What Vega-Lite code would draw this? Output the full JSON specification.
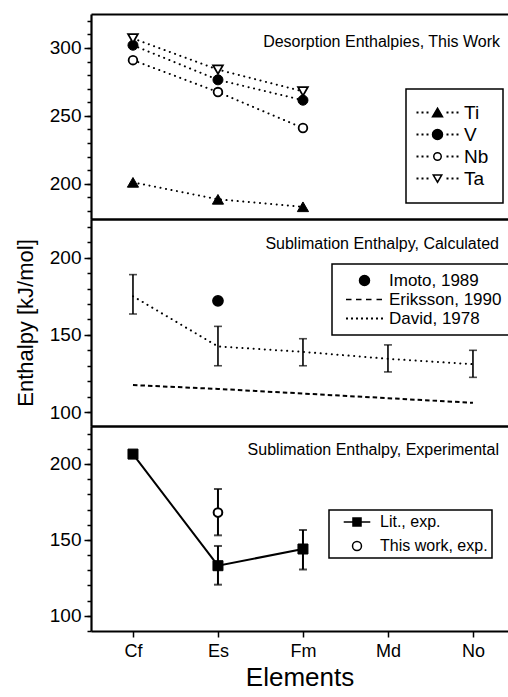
{
  "$schema": "https://vega.github.io/schema/vega-lite/v6.json",
  "padding": {"left": 14, "top": 14, "right": 0, "bottom": 0},
  "bounds": "flush",
  "spacing": 0,
  "resolve": {"scale": {"shape": "independent", "fill": "independent", "stroke": "independent"}, "legend": {"shape": "independent", "fill": "independent", "stroke": "independent"}},
  "config": {
    "font": "Liberation Sans",
    "view": {"stroke": null},
    "axis": {"domainColor": "black", "domainWidth": 2.2, "tickColor": "black", "tickWidth": 1.5, "labelColor": "black", "titleColor": "black", "grid": false, "titleFontWeight": "normal", "labelFont": "Liberation Sans", "titleFont": "Liberation Sans"},
    "legend": {"labelColor": "black", "labelFont": "Liberation Sans", "fillColor": "white", "strokeColor": "black", "strokeWidth": 1.5, "symbolStrokeColor": "black", "symbolStrokeWidth": 1.5, "symbolOpacity": 1},
    "title": {"fontWeight": "normal", "color": "black", "font": "Liberation Sans", "frame": "group"}
  },
  "datasets": {
    "desorption": [
      {"el": "Cf", "metal": "Ti", "v": 201},
      {"el": "Es", "metal": "Ti", "v": 188.5},
      {"el": "Fm", "metal": "Ti", "v": 183},
      {"el": "Cf", "metal": "V", "v": 302},
      {"el": "Es", "metal": "V", "v": 276.5},
      {"el": "Fm", "metal": "V", "v": 261.5},
      {"el": "Cf", "metal": "Nb", "v": 291},
      {"el": "Es", "metal": "Nb", "v": 267.5},
      {"el": "Fm", "metal": "Nb", "v": 241},
      {"el": "Cf", "metal": "Ta", "v": 307},
      {"el": "Es", "metal": "Ta", "v": 284},
      {"el": "Fm", "metal": "Ta", "v": 268}
    ],
    "david": [
      {"el": "Cf", "src": "David, 1978", "v": 175, "lo": 163.5, "hi": 189},
      {"el": "Es", "src": "David, 1978", "v": 142.5, "lo": 130, "hi": 155.5},
      {"el": "Fm", "src": "David, 1978", "v": 139, "lo": 130, "hi": 147.5},
      {"el": "Md", "src": "David, 1978", "v": 134.5, "lo": 126, "hi": 143.5},
      {"el": "No", "src": "David, 1978", "v": 131, "lo": 122.5, "hi": 140}
    ],
    "eriksson": [
      {"el": "Cf", "src": "Eriksson, 1990", "v": 117.5},
      {"el": "Es", "src": "Eriksson, 1990", "v": 115},
      {"el": "Fm", "src": "Eriksson, 1990", "v": 112},
      {"el": "Md", "src": "Eriksson, 1990", "v": 109},
      {"el": "No", "src": "Eriksson, 1990", "v": 106}
    ],
    "imoto": [
      {"el": "Es", "src": "Imoto, 1989", "v": 172}
    ],
    "exp": [
      {"el": "Cf", "series": "Lit., exp.", "v": 206.5, "lo": null, "hi": null},
      {"el": "Es", "series": "Lit., exp.", "v": 133, "lo": 120.5, "hi": 146},
      {"el": "Fm", "series": "Lit., exp.", "v": 144, "lo": 130.5, "hi": 156.5},
      {"el": "Es", "series": "This work, exp.", "v": 168, "lo": 153, "hi": 183.5}
    ]
  },
  "vconcat": [
    {
      "width": 417,
      "height": 205,
      "title": {"text": "Desorption Enthalpies, This Work", "anchor": "end", "orient": "top", "offset": -36, "fontSize": 16, "dx": -8},
      "data": {"name": "desorption"},
      "layer": [
        {
          "mark": {"type": "line", "color": "black", "strokeWidth": 2, "strokeDash": [0.1, 5.5], "strokeCap": "round"},
          "encoding": {
            "x": {"field": "el", "type": "nominal", "scale": {"type": "point", "domain": ["Cf", "Es", "Fm", "Md", "No"], "padding": 0.453, "align": 0.545}, "axis": {"orient": "bottom", "title": null, "labels": false, "ticks": false}},
            "y": {"field": "v", "type": "quantitative", "scale": {"domain": [174, 325], "nice": false, "zero": false}, "axis": {"orient": "left", "values": [200, 250, 300], "title": null, "tickSize": 7, "labelFontSize": 19, "labelPadding": 3}},
            "detail": {"field": "metal"}
          }
        },
        {
          "transform": [{"filter": "datum.metal === 'Ti'"}],
          "mark": {"type": "point", "shape": "triangle-up", "filled": true, "fill": "black", "stroke": "black", "strokeWidth": 1, "size": 125, "opacity": 1},
          "encoding": {"x": {"field": "el", "type": "nominal", "axis": null}, "y": {"field": "v", "type": "quantitative", "axis": null}}
        },
        {
          "transform": [{"filter": "datum.metal === 'V'"}],
          "mark": {"type": "point", "shape": "circle", "filled": true, "fill": "black", "stroke": "black", "strokeWidth": 1, "size": 100, "opacity": 1},
          "encoding": {"x": {"field": "el", "type": "nominal", "axis": null}, "y": {"field": "v", "type": "quantitative", "axis": null}}
        },
        {
          "transform": [{"filter": "datum.metal === 'Nb'"}],
          "mark": {"type": "point", "shape": "circle", "filled": true, "fill": "white", "stroke": "black", "strokeWidth": 1.8, "size": 75, "opacity": 1},
          "encoding": {"x": {"field": "el", "type": "nominal", "axis": null}, "y": {"field": "v", "type": "quantitative", "axis": null}}
        },
        {
          "transform": [{"filter": "datum.metal === 'Ta'"}],
          "mark": {"type": "point", "shape": "triangle-down", "filled": true, "fill": "white", "stroke": "black", "strokeWidth": 1.8, "size": 95, "opacity": 1},
          "encoding": {"x": {"field": "el", "type": "nominal", "axis": null}, "y": {"field": "v", "type": "quantitative", "axis": null}}
        },
        {
          "mark": {"type": "point", "filled": false, "color": "black", "strokeWidth": 1.5, "size": 100, "opacity": 0},
          "encoding": {
            "x": {"field": "el", "type": "nominal", "axis": {"orient": "top", "title": null, "labels": false, "ticks": false}},
            "y": {"field": "v", "type": "quantitative", "axis": {"orient": "left", "values": [180, 190, 200, 210, 220, 230, 240, 250, 260, 270, 280, 290, 300, 310, 320], "labels": false, "domain": false, "tickSize": 4, "title": null}},
            "shape": {"field": "metal", "type": "nominal",
              "scale": {"domain": ["Ti", "V", "Nb", "Ta"], "range": [
                "M0,-0.87L1,0.87L-1,0.87ZM-4.05,-0.05h0.1v0.1h-0.1ZM-3.05,-0.05h0.1v0.1h-0.1ZM-2.05,-0.05h0.1v0.1h-0.1ZM1.95,-0.05h0.1v0.1h-0.1ZM2.95,-0.05h0.1v0.1h-0.1ZM3.95,-0.05h0.1v0.1h-0.1Z",
                "M1,0A1,1,0,1,1,-1,0A1,1,0,1,1,1,0ZM-4.05,-0.05h0.1v0.1h-0.1ZM-3.05,-0.05h0.1v0.1h-0.1ZM-2.05,-0.05h0.1v0.1h-0.1ZM1.95,-0.05h0.1v0.1h-0.1ZM2.95,-0.05h0.1v0.1h-0.1ZM3.95,-0.05h0.1v0.1h-0.1Z",
                "M0.75,0A0.75,0.75,0,1,1,-0.75,0A0.75,0.75,0,1,1,0.75,0ZM-4.05,-0.05h0.1v0.1h-0.1ZM-3.05,-0.05h0.1v0.1h-0.1ZM-2.05,-0.05h0.1v0.1h-0.1ZM1.95,-0.05h0.1v0.1h-0.1ZM2.95,-0.05h0.1v0.1h-0.1ZM3.95,-0.05h0.1v0.1h-0.1Z",
                "M0,0.75L0.85,-0.7L-0.85,-0.7ZM-4.05,-0.05h0.1v0.1h-0.1ZM-3.05,-0.05h0.1v0.1h-0.1ZM-2.05,-0.05h0.1v0.1h-0.1ZM1.95,-0.05h0.1v0.1h-0.1ZM2.95,-0.05h0.1v0.1h-0.1ZM3.95,-0.05h0.1v0.1h-0.1Z"]},
              "legend": {"orient": "none", "legendX": 315, "legendY": 75, "title": null, "padding": 14, "labelFontSize": 19, "symbolSize": 100, "symbolOffset": 8, "labelOffset": 17, "rowPadding": 2, "symbolOpacity": 1}},
            "fill": {"field": "metal", "type": "nominal", "scale": {"domain": ["Ti", "V", "Nb", "Ta"], "range": ["black", "black", "white", "white"]},
              "legend": {"orient": "none", "legendX": 315, "legendY": 75, "title": null, "padding": 14, "labelFontSize": 19, "symbolSize": 100, "symbolOffset": 8, "labelOffset": 17, "rowPadding": 2, "symbolOpacity": 1}},
            "stroke": {"field": "metal", "type": "nominal", "scale": {"domain": ["Ti", "V", "Nb", "Ta"], "range": ["black", "black", "black", "black"]},
              "legend": {"orient": "none", "legendX": 315, "legendY": 75, "title": null, "padding": 14, "labelFontSize": 19, "symbolSize": 100, "symbolOffset": 8, "labelOffset": 17, "rowPadding": 2, "symbolOpacity": 1}}
          }
        }
      ],
      "resolve": {"axis": {"x": "independent", "y": "independent"}}
    },
    {
      "width": 417,
      "height": 207,
      "title": {"text": "Sublimation Enthalpy, Calculated", "anchor": "end", "orient": "top", "offset": -33, "fontSize": 16, "dx": -9},
      "layer": [
        {
          "data": {"name": "david"},
          "mark": {"type": "line", "color": "black", "strokeWidth": 2, "strokeDash": [0.1, 5.5], "strokeCap": "round"},
          "encoding": {
            "x": {"field": "el", "type": "nominal", "scale": {"type": "point", "domain": ["Cf", "Es", "Fm", "Md", "No"], "padding": 0.453, "align": 0.545}, "axis": {"orient": "bottom", "title": null, "labels": false, "ticks": false}},
            "y": {"field": "v", "type": "quantitative", "scale": {"domain": [91, 225], "nice": false, "zero": false}, "axis": {"orient": "left", "values": [100, 150, 200], "title": "Enthalpy [kJ/mol]", "titleFontSize": 22, "titlePadding": 12, "tickSize": 7, "labelFontSize": 19, "labelPadding": 3}}
          }
        },
        {
          "data": {"name": "eriksson"},
          "mark": {"type": "line", "color": "black", "strokeWidth": 2, "strokeDash": [4.5, 3]},
          "encoding": {
            "x": {"field": "el", "type": "nominal", "axis": null},
            "y": {"field": "v", "type": "quantitative", "axis": null}
          }
        },
        {
          "data": {"name": "david"},
          "mark": {"type": "rule", "color": "black", "strokeWidth": 1.6},
          "encoding": {
            "x": {"field": "el", "type": "nominal", "axis": null},
            "y": {"field": "lo", "type": "quantitative", "axis": null},
            "y2": {"field": "hi"}
          }
        },
        {
          "data": {"name": "david"},
          "mark": {"type": "tick", "color": "black", "size": 8, "thickness": 1.6, "orient": "horizontal"},
          "encoding": {
            "x": {"field": "el", "type": "nominal", "axis": null},
            "y": {"field": "lo", "type": "quantitative", "axis": null}
          }
        },
        {
          "data": {"name": "david"},
          "mark": {"type": "tick", "color": "black", "size": 8, "thickness": 1.6, "orient": "horizontal"},
          "encoding": {
            "x": {"field": "el", "type": "nominal", "axis": null},
            "y": {"field": "hi", "type": "quantitative", "axis": null}
          }
        },
        {
          "data": {"name": "imoto"},
          "mark": {"type": "point", "filled": false, "color": "black", "strokeWidth": 1.5, "size": 105, "opacity": 1},
          "encoding": {
            "x": {"field": "el", "type": "nominal", "axis": {"orient": "top", "title": null, "labels": false, "ticks": false}},
            "y": {"field": "v", "type": "quantitative", "axis": {"orient": "left", "values": [100, 110, 120, 130, 140, 150, 160, 170, 180, 190, 200, 210, 220], "labels": false, "domain": false, "tickSize": 4, "title": null}},
            "shape": {"field": "src", "type": "nominal",
              "scale": {"domain": ["Imoto, 1989", "Eriksson, 1990", "David, 1978"], "range": [
                "circle",
                "M-3.7,0H-2.6M-1.7,0H-0.6M0.3,0H1.4M2.4,0H3.5",
                "M-3.55,-0.05h0.1v0.1h-0.1ZM-2.55,-0.05h0.1v0.1h-0.1ZM-1.55,-0.05h0.1v0.1h-0.1ZM-0.55,-0.05h0.1v0.1h-0.1ZM0.45,-0.05h0.1v0.1h-0.1ZM1.45,-0.05h0.1v0.1h-0.1ZM2.45,-0.05h0.1v0.1h-0.1ZM3.45,-0.05h0.1v0.1h-0.1Z"]},
              "legend": {"orient": "none", "legendX": 241, "legendY": 45, "title": null, "padding": 8, "labelFontSize": 17, "symbolSize": 100, "symbolOffset": 16, "labelOffset": 16, "rowPadding": 1, "symbolOpacity": 1}},
            "fill": {"field": "src", "type": "nominal", "scale": {"domain": ["Imoto, 1989", "Eriksson, 1990", "David, 1978"], "range": ["black", "black", "black"]},
              "legend": {"orient": "none", "legendX": 241, "legendY": 45, "title": null, "padding": 8, "labelFontSize": 17, "symbolSize": 100, "symbolOffset": 16, "labelOffset": 16, "rowPadding": 1, "symbolOpacity": 1}},
            "stroke": {"field": "src", "type": "nominal", "scale": {"domain": ["Imoto, 1989", "Eriksson, 1990", "David, 1978"], "range": ["black", "black", "black"]},
              "legend": {"orient": "none", "legendX": 241, "legendY": 45, "title": null, "padding": 8, "labelFontSize": 17, "symbolSize": 100, "symbolOffset": 16, "labelOffset": 16, "rowPadding": 1, "symbolOpacity": 1}}
          }
        }
      ],
      "resolve": {"axis": {"x": "independent", "y": "independent"}}
    },
    {
      "width": 417,
      "height": 205,
      "title": {"text": "Sublimation Enthalpy, Experimental", "anchor": "end", "orient": "top", "offset": -32, "fontSize": 16, "dx": -9},
      "data": {"name": "exp"},
      "layer": [
        {
          "transform": [{"filter": "datum.series === 'Lit., exp.'"}],
          "mark": {"type": "line", "color": "black", "strokeWidth": 2},
          "encoding": {
            "x": {"field": "el", "type": "nominal", "scale": {"type": "point", "domain": ["Cf", "Es", "Fm", "Md", "No"], "padding": 0.453, "align": 0.545}, "axis": {"orient": "bottom", "title": "Elements", "titleFontSize": 26, "titlePadding": 4, "labels": true, "labelAngle": 0, "ticks": true, "tickSize": 6, "labelFontSize": 18, "labelPadding": 5}},
            "y": {"field": "v", "type": "quantitative", "scale": {"domain": [90, 225], "nice": false, "zero": false}, "axis": {"orient": "left", "values": [100, 150, 200], "title": null, "tickSize": 7, "labelFontSize": 19, "labelPadding": 3}}
          }
        },
        {
          "mark": {"type": "rule", "color": "black", "strokeWidth": 2},
          "encoding": {
            "x": {"field": "el", "type": "nominal", "axis": null},
            "y": {"field": "lo", "type": "quantitative", "axis": null},
            "y2": {"field": "hi"}
          }
        },
        {
          "mark": {"type": "tick", "color": "black", "size": 8, "thickness": 2, "orient": "horizontal"},
          "encoding": {
            "x": {"field": "el", "type": "nominal", "axis": null},
            "y": {"field": "lo", "type": "quantitative", "axis": null}
          }
        },
        {
          "mark": {"type": "tick", "color": "black", "size": 8, "thickness": 2, "orient": "horizontal"},
          "encoding": {
            "x": {"field": "el", "type": "nominal", "axis": null},
            "y": {"field": "hi", "type": "quantitative", "axis": null}
          }
        },
        {
          "transform": [{"filter": "datum.series === 'Lit., exp.'"}],
          "mark": {"type": "point", "shape": "square", "filled": true, "fill": "black", "stroke": "black", "strokeWidth": 1, "size": 100, "opacity": 1},
          "encoding": {"x": {"field": "el", "type": "nominal", "axis": null}, "y": {"field": "v", "type": "quantitative", "axis": null}}
        },
        {
          "transform": [{"filter": "datum.series === 'This work, exp.'"}],
          "mark": {"type": "point", "shape": "circle", "filled": true, "fill": "white", "stroke": "black", "strokeWidth": 2, "size": 75, "opacity": 1},
          "encoding": {"x": {"field": "el", "type": "nominal", "axis": null}, "y": {"field": "v", "type": "quantitative", "axis": null}}
        },
        {
          "mark": {"type": "point", "filled": false, "color": "black", "strokeWidth": 1.8, "size": 80, "opacity": 0},
          "encoding": {
            "x": {"field": "el", "type": "nominal", "axis": {"orient": "top", "title": null, "labels": false, "ticks": false}},
            "y": {"field": "v", "type": "quantitative", "axis": {"orient": "left", "values": [90, 100, 110, 120, 130, 140, 150, 160, 170, 180, 190, 200, 210, 220], "labels": false, "domain": false, "tickSize": 4, "title": null}},
            "shape": {"field": "series", "type": "nominal",
              "scale": {"domain": ["Lit., exp.", "This work, exp."], "range": ["M-2.97,0H-0.9M0.9,0H2.97M-0.9,-0.9H0.9V0.9H-0.9Z", "circle"]},
              "legend": {"orient": "none", "legendX": 238, "legendY": 84, "title": null, "padding": 4, "labelFontSize": 16, "symbolSize": 80, "symbolOffset": 16, "labelOffset": 15, "rowPadding": 8, "symbolOpacity": 1}},
            "fill": {"field": "series", "type": "nominal", "scale": {"domain": ["Lit., exp.", "This work, exp."], "range": ["black", "white"]},
              "legend": {"orient": "none", "legendX": 238, "legendY": 84, "title": null, "padding": 4, "labelFontSize": 16, "symbolSize": 80, "symbolOffset": 16, "labelOffset": 15, "rowPadding": 8, "symbolOpacity": 1}},
            "stroke": {"field": "series", "type": "nominal", "scale": {"domain": ["Lit., exp.", "This work, exp."], "range": ["black", "black"]},
              "legend": {"orient": "none", "legendX": 238, "legendY": 84, "title": null, "padding": 4, "labelFontSize": 16, "symbolSize": 80, "symbolOffset": 16, "labelOffset": 15, "rowPadding": 8, "symbolOpacity": 1}}
          }
        }
      ],
      "resolve": {"axis": {"x": "independent", "y": "independent"}}
    }
  ]
}
